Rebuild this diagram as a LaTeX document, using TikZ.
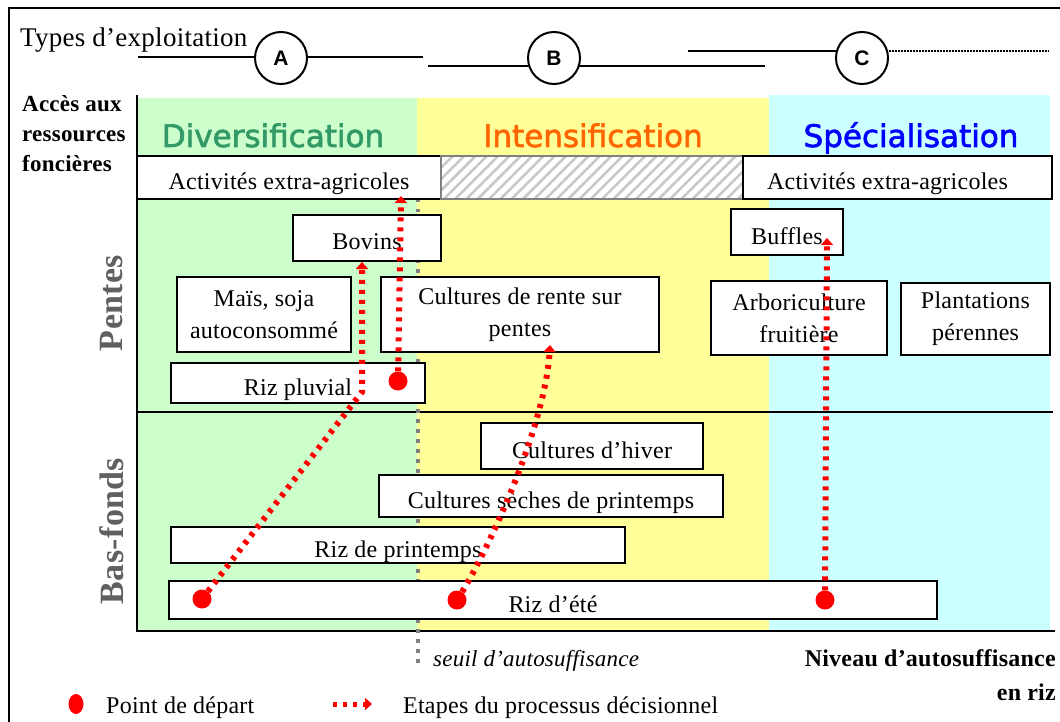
\documentclass[tikz,border=0pt]{standalone}
\usepackage{fontspec}
\setmainfont{Liberation Serif}[LetterSpace=1.0]
\newfontfamily\headfont{DejaVu Sans}[FakeBold=2]
\newfontfamily\circfont{Liberation Sans}
\usetikzlibrary{patterns.meta,arrows.meta,shapes.geometric}
\definecolor{bggreen}{HTML}{CCFFCC}
\definecolor{bgyellow}{HTML}{FFFF99}
\definecolor{bgcyan}{HTML}{CCFFFF}
\definecolor{hgreen}{HTML}{339966}
\definecolor{horange}{HTML}{FF6600}
\definecolor{hblue}{HTML}{0000FF}
\definecolor{sidegray}{HTML}{606060}
\definecolor{seuilgray}{HTML}{808080}
\tikzset{
  cropbox/.style={draw, line width=2.4pt, fill=white, inner sep=0pt, align=center, font=\fontsize{24}{32}\selectfont},
  oneline/.style={text height=24pt, text depth=0pt},
  twoline/.style={yshift=-4pt},
  heading/.style={anchor=base, inner sep=0pt, font=\headfont\fontsize{31}{31}\selectfont},
  typecircle/.style={circle, draw, line width=2pt, fill=white, minimum size=52pt, inner sep=0pt, font=\circfont\bfseries\fontsize{21}{21}\selectfont},
  stepline/.style={draw=red, line width=6pt, dash pattern=on 4pt off 6pt, -{Triangle[width=12pt,length=7pt]}},
  startdot/.style={circle, fill=red, minimum size=19pt, inner sep=0pt},
  legdot/.style={ellipse, fill=red, minimum width=15pt, minimum height=20pt, inner sep=0pt},
  seuilline/.style={draw=seuilgray, line width=4.5pt, dash pattern=on 3.5pt off 6.5pt},
  sidelabel/.style={rotate=90, text=sidegray, inner sep=0pt, font=\bfseries\fontsize{34}{34}\selectfont},
  plaintext/.style={inner sep=0pt, font=\fontsize{24}{30}\selectfont},
  axisline/.style={line width=2.5pt},
}
\newcommand{\cropnode}[7]{\node[cropbox,#7, minimum width={#4-#2}, minimum height={#5-#3}] (#1) at ({(#2+#4)/2},{(#3+#5)/2}) {#6};}
\begin{document}
\begin{tikzpicture}[x=1pt,y=-1pt]
\useasboundingbox (0,0) rectangle (1060,722);
% outer frame
\draw[line width=2.5pt] (9,740) -- (9,8) -- (1075,8);
% backgrounds
\fill[bggreen] (137,98) rectangle (417,631);
\fill[bgyellow] (417,98) rectangle (769,631);
\fill[bgcyan] (769,95) rectangle (1050,631);
% headings
\node[heading, text=hgreen] (hdiv) at (273,147) {Diversification};
\node[heading, text=horange] (hint) at (593,147) {Intensification};
\node[heading, text=hblue] (hspe) at (911,147) {Spécialisation};
% axes
\draw[axisline] (137,95) -- (137,631) -- (1055,631);
\draw[axisline] (137,412) -- (1053,412);
% seuil line
\coordinate (s1) at (418,199);
\coordinate (s2) at (418,667);
\draw[seuilline] (s1) -- (s2);
% activites row
\cropnode{act1}{137}{156}{441}{199}{Activités extra-agricoles}{oneline}
\node[draw=seuilgray, line width=2pt, preaction={fill=white},
      pattern={Lines[angle=45,distance=8pt,line width=2.5pt]}, pattern color=black!22,
      minimum width=302pt, minimum height=43pt, inner sep=0pt] (hatch) at (592,177.5) {};
\cropnode{act2}{743}{156}{1052}{199}{\hspace*{-20pt}Activités extra-agricoles}{oneline}
% Pentes boxes
\cropnode{bov}{293}{215}{441}{261}{Bovins}{oneline}
\cropnode{mais}{177}{273}{351}{348}{Maïs, soja\\autoconsommé}{twoline}
\cropnode{rente}{381}{273}{659}{348}{Cultures de rente sur\\pentes}{twoline}
\cropnode{pluv}{171}{363}{425}{403}{Riz pluvial}{oneline}
\cropnode{buf}{731}{209}{843}{255}{Buffles}{oneline}
\cropnode{arbo}{711}{277}{887}{351}{Arboriculture\\fruitière}{twoline}
\cropnode{plant}{901}{279}{1050}{351}{Plantations\\pérennes}{twoline}
% Bas-fonds boxes
\cropnode{hiver}{481}{423}{703}{469}{Cultures d’hiver}{oneline}
\cropnode{seches}{379}{475}{723}{517}{Cultures sèches de printemps}{oneline}
\cropnode{rizp}{171}{527}{625}{563}{Riz de printemps}{oneline}
\cropnode{ete}{169}{581}{937}{619}{Riz d’été}{oneline}
% types d'exploitation
\node[plaintext, anchor=base west, font=\fontsize{27}{27}\selectfont] (types) at (20,47) {Types d’exploitation};
\coordinate (l1a) at (138,57); \coordinate (l1b) at (423,57);
\coordinate (l2a) at (428,66); \coordinate (l2b) at (765,66);
\coordinate (l3a) at (688,51); \coordinate (l3m) at (862,51); \coordinate (l3b) at (1049,51);
\draw[line width=2pt] (l1a) -- (l1b);
\draw[line width=2pt] (l2a) -- (l2b);
\draw[line width=2pt] (l3a) -- (l3m);
\draw[line width=1.3pt, dash pattern=on 1.5pt off 1.5pt] (l3m) -- (l3b);
\node[typecircle] (cA) at (281,58) {A};
\node[typecircle] (cB) at (554,58) {B};
\node[typecircle] (cC) at (862,58) {C};
% left labels
\node[plaintext, anchor=north west, align=left, font=\bfseries\fontsize{23}{30}\selectfont] (acces) at (22,95) {Accès aux\\ressources\\foncières};
\node[sidelabel] (pentes) at (112,303) {Pentes};
\node[sidelabel] (basfonds) at (112,531) {Bas-fonds};
% decision paths
\node[startdot] (d1) at (398,381) {};
\node[startdot] (d2) at (202,599) {};
\node[startdot] (d3) at (457,600) {};
\node[startdot] (d4) at (825,600) {};
\coordinate (t1) at (401,196);
\coordinate (k2) at (362,392);
\coordinate (t2) at (362,262);
\coordinate (c3a) at (485,555);
\coordinate (c3b) at (545,430);
\coordinate (t3) at (550,345);
\coordinate (t4) at (827,238);
\draw[stepline] (d1) -- (t1);
\draw[stepline] (d2) -- (k2) -- (t2);
\draw[stepline] (d3) .. controls (c3a) and (c3b) .. (t3);
\draw[stepline] (d4) -- (t4);
% bottom labels
\node[plaintext, anchor=base west, font=\itshape\fontsize{23}{23}\selectfont] (seuil) at (433,666) {seuil d’autosuffisance};
\node[plaintext, anchor=base east, font=\bfseries\fontsize{24}{24}\selectfont] (niveau) at (1056,666) {Niveau d’autosuffisance};
\node[plaintext, anchor=base east, font=\bfseries\fontsize{24}{24}\selectfont] (enriz) at (1056,700) {en riz};
% legend
\node[legdot] (ld) at (76,704) {};
\node[plaintext, anchor=base west] (lt1) at (106,713) {Point de départ};
\coordinate (la1) at (333,704);
\coordinate (la2) at (372,704);
\draw[stepline, line width=5pt] (la1) -- (la2);
\node[plaintext, anchor=base west] (lt2) at (403,713) {Etapes du processus décisionnel};
\end{tikzpicture}
\end{document}
